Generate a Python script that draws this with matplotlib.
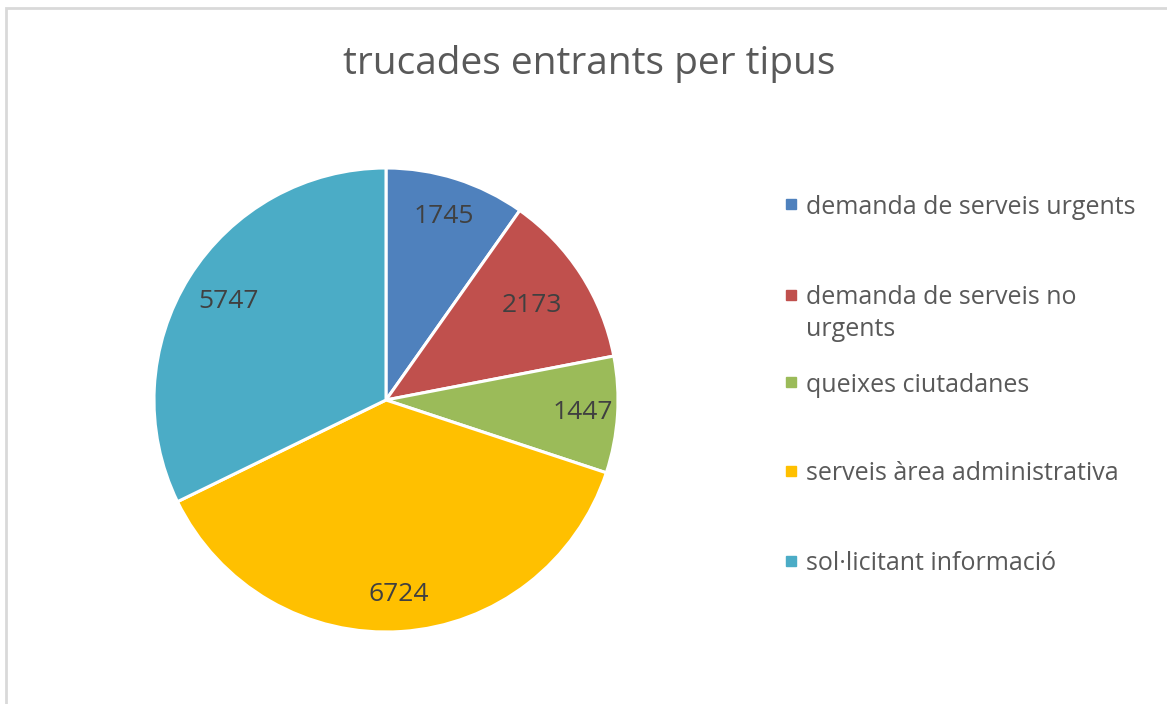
import matplotlib
matplotlib.use('Agg')
import matplotlib.pyplot as plt
from matplotlib.patches import Rectangle
import numpy as np

plt.rcParams['font.family'] = ['Open Sans', 'DejaVu Sans']

# data
categories = ['demanda de serveis urgents',
              'demanda de serveis no\nurgents',
              'queixes ciutadanes',
              'serveis àrea administrativa',
              'sol·licitant informació']
values = [1745, 2173, 1447, 6724, 5747]
colors = ['#4F81BD', '#C0504D', '#9BBB59', '#FFC000', '#4BACC6']
title = 'trucades entrants per tipus'

W, H = 1167, 704
fig = plt.figure(figsize=(W / 100, H / 100), dpi=100)

# light grey chart frame
fig.add_artist(Rectangle((6 / W, -0.05), 1.2, 1 - 8 / H + 0.05, transform=fig.transFigure,
                         fill=False, edgecolor='#d9d9d9', linewidth=2))

cx, cy, r = 386, 400, 232
ax = fig.add_axes([(cx - r) / W, (H - cy - r) / H, 2 * r / W, 2 * r / H])
wedges, _ = ax.pie(values, colors=colors, startangle=90, counterclock=False,
                   radius=1, wedgeprops=dict(edgecolor='white', linewidth=2.2))
ax.set_xlim(-1, 1)
ax.set_ylim(-1, 1)
ax.axis('off')

# value labels, placed inside each slice
dists = [0.83, 0.75, 0.85, 0.84, 0.80]
for w, v, d in zip(wedges, values, dists):
    ang = np.deg2rad((w.theta1 + w.theta2) / 2)
    ax.text(d * np.cos(ang), d * np.sin(ang), str(v), ha='center', va='center',
            fontsize=19, color='#404040')

fig.text(589 / W, 1 - 64 / H, title, ha='center', va='center', fontsize=28, color='#595959')

# legend drawn by hand so the wrapped entry lines up like the original
leg_y = [204, 295, 382, 471, 561]
for lab, col, y in zip(categories, colors, leg_y):
    fig.add_artist(Rectangle((786 / W, 1 - (y + 5) / H), 10 / W, 10 / H,
                             transform=fig.transFigure, color=col))
    for i, line in enumerate(lab.split('\n')):
        fig.text(806 / W, 1 - (y + 32 * i) / H, line, ha='left', va='center_baseline',
                 fontsize=18, color='#595959')

fig.savefig('out.png', dpi=100)
